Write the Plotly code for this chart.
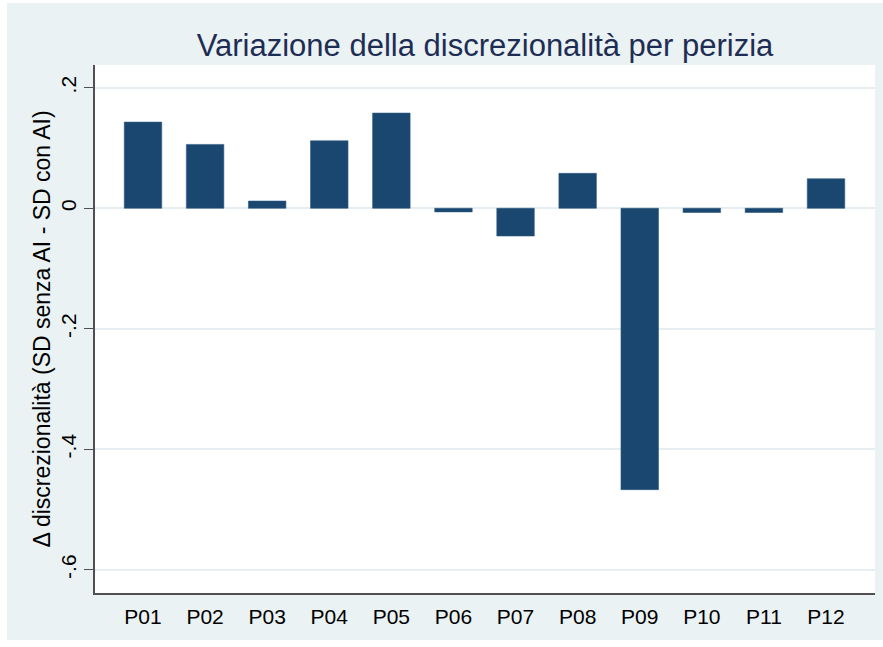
import plotly.graph_objects as go

categories = ["P01", "P02", "P03", "P04", "P05", "P06", "P07", "P08", "P09", "P10", "P11", "P12"]
delta_values = [0.143, 0.106, 0.012, 0.112, 0.158, -0.006, -0.046, 0.058, -0.467, -0.007, -0.007, 0.049]
y_tick_vals = [-0.6, -0.4, -0.2, 0, 0.2]
y_tick_text = ["-.6", "-.4", "-.2", "0", ".2"]

W, H = 883, 647
ML, MR, MT, MB = 95, 8, 65, 54
BG = "#EAF2F3"
FONT = "Arial, Liberation Sans, sans-serif"

fig = go.Figure()
fig.add_trace(go.Bar(
    x=categories, y=delta_values,
    marker=dict(color="#1a476f", line=dict(color="#2d5a82", width=0.6)),
    showlegend=False,
))

pw = W - ML - MR
ph = H - MT - MB

def px_x(p):
    return (p - ML) / pw

def px_y(p):
    return (H - MB - p) / ph

# thin white border strips around the light background
shapes = [
    dict(type="rect", xref="paper", yref="paper", x0=px_x(0), x1=px_x(7), y0=px_y(H), y1=px_y(0),
         fillcolor="white", line=dict(width=0), layer="above"),
    dict(type="rect", xref="paper", yref="paper", x0=px_x(0), x1=px_x(W), y0=px_y(3), y1=px_y(0),
         fillcolor="white", line=dict(width=0), layer="above"),
    dict(type="rect", xref="paper", yref="paper", x0=px_x(0), x1=px_x(W), y0=px_y(H), y1=px_y(640),
         fillcolor="white", line=dict(width=0), layer="above"),
]

fig.update_layout(
    width=W, height=H,
    margin=dict(l=ML, r=MR, t=MT, b=MB, pad=0),
    paper_bgcolor=BG, plot_bgcolor="white",
    font=dict(family=FONT, color="black"),
    bargap=0.396,
    shapes=shapes,
    title=dict(text="Variazione della discrezionalità per perizia",
               font=dict(size=31, color="#1e2d53", family=FONT),
               x=0.5, xref="paper", xanchor="center",
               y=1 - 45 / H, yref="container", yanchor="middle"),
    xaxis=dict(
        type="category", range=[-0.773, 11.789],
        showline=True, linecolor="#505050", linewidth=1.5,
        ticks="", showgrid=False, zeroline=False,
        tickfont=dict(size=21, family=FONT, color="black"),
        ticklabelstandoff=4,
    ),
    yaxis=dict(
        range=[-0.6385, 0.2378],
        tickvals=y_tick_vals, ticktext=y_tick_text,
        tickangle=-90,
        showline=True, linecolor="#505050", linewidth=1.5,
        ticks="outside", ticklen=9, tickwidth=1.3, tickcolor="#505050",
        showgrid=True, gridcolor="#E6EEF1", gridwidth=1.5,
        zeroline=False,
        tickfont=dict(size=21, family=FONT, color="black"),
        title=dict(text="Δ discrezionalità (SD senza AI - SD con AI)",
                   font=dict(size=23, family=FONT, color="black"), standoff=0),
    ),
)

fig.write_html("out.html", config={"displayModeBar": False},
               post_script="document.body.style.margin='0px';")
